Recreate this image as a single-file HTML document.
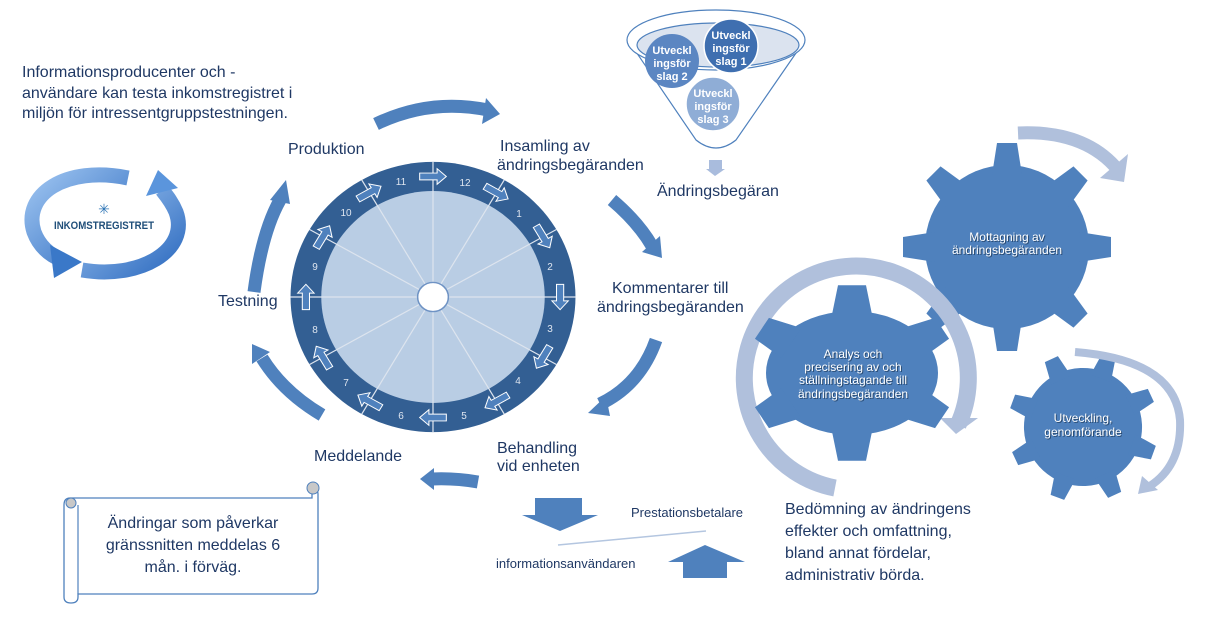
<!DOCTYPE html>
<html><head><meta charset="utf-8"><style>
body{margin:0;width:1208px;height:623px;background:#fff;overflow:hidden;font-family:"Liberation Sans",sans-serif}
svg{position:absolute;left:0;top:0}
</style></head><body>
<svg width="1208" height="623" viewBox="0 0 1208 623" font-family="Liberation Sans, sans-serif">
<defs>
<linearGradient id="lg" x1="0" y1="0" x2="1" y2="1"><stop offset="0" stop-color="#9cc3f0"/><stop offset="1" stop-color="#2f6cc0"/></linearGradient>
<g id="ar"><path d="M-13,-3.5 H4 V-8 L13,0 L4,8 V3.5 H-13 Z" fill="#4f81bd" stroke="#fff" stroke-width="1"/></g>
<g id="t8"><polygon points="-15,-72 15,-72 10,-104 -10,-104" /></g>
</defs>

<!-- top-left text -->
<g fill="#1f3864" font-size="16">
<text x="22" y="77">Informationsproducenter och -</text>
<text x="22" y="98">användare kan testa inkomstregistret i</text>
<text x="22" y="118">miljön för intressentgruppstestningen.</text>
</g>

<!-- logo -->
<path d="M128,178 C65,165 22,195 34,232 C40,248 52,256 62,260" fill="none" stroke="url(#lg)" stroke-width="15"/>
<polygon points="50,245 82,262 54,278" fill="#3a78c8"/>
<path d="M82,270 C140,280 190,250 176,212 C172,202 166,195 162,190" fill="none" stroke="url(#lg)" stroke-width="15"/>
<polygon points="146,196 158,170 178,188" fill="#5b95dc"/>
<text x="104" y="229" font-size="11" font-weight="bold" fill="#1f4e79" text-anchor="middle" textLength="100" lengthAdjust="spacingAndGlyphs">INKOMSTREGISTRET</text>
<text x="104" y="214" font-size="14" fill="#2e75b6" text-anchor="middle">✳</text>

<!-- outer cycle arrows -->
<g fill="none" stroke="#4f81bd" stroke-width="13">
<path d="M376,124 Q430,98 488,110"/>
<path d="M612,200 Q638,222 652,246"/>
<path d="M656,340 Q640,385 600,404"/>
<path d="M478,482 Q455,478 432,479"/>
<path d="M322,415 Q283,392 262,358"/>
<path d="M254,292 Q262,232 280,200"/>
</g>
<g fill="#4f81bd">
<polygon points="486,98 500,114 482,124"/>
<polygon points="642,252 662,258 660,236"/>
<polygon points="606,396 588,413 610,416"/>
<polygon points="434,468 420,479 434,490"/>
<polygon points="252,364 252,344 270,352"/>
<polygon points="270,200 286,180 290,204"/>
</g>

<!-- wheel -->
<g transform="translate(433,297) scale(1.025,0.972)">
<circle r="139" fill="#335f93"/>
<circle r="109" fill="#b9cde4"/>
<g stroke="#dde4ee" stroke-width="1.2">
<line x1="0" y1="-139" x2="0" y2="139"/><line x1="-139" y1="0" x2="139" y2="0"/>
<line x1="69.5" y1="-120.4" x2="-69.5" y2="120.4"/><line x1="120.4" y1="-69.5" x2="-120.4" y2="69.5"/>
<line x1="-69.5" y1="-120.4" x2="69.5" y2="120.4"/><line x1="-120.4" y1="-69.5" x2="120.4" y2="69.5"/>
</g>
<circle r="15" fill="#fff" stroke="#6f93c4" stroke-width="1.5"/>
<g>
<use href="#ar" transform="rotate(0) translate(0,-124)"/>
<use href="#ar" transform="rotate(30) translate(0,-124)"/>
<use href="#ar" transform="rotate(60) translate(0,-124)"/>
<use href="#ar" transform="rotate(90) translate(0,-124)"/>
<use href="#ar" transform="rotate(120) translate(0,-124)"/>
<use href="#ar" transform="rotate(150) translate(0,-124)"/>
<use href="#ar" transform="rotate(180) translate(0,-124)"/>
<use href="#ar" transform="rotate(210) translate(0,-124)"/>
<use href="#ar" transform="rotate(240) translate(0,-124)"/>
<use href="#ar" transform="rotate(270) translate(0,-124)"/>
<use href="#ar" transform="rotate(300) translate(0,-124)"/>
<use href="#ar" transform="rotate(330) translate(0,-124)"/>
</g>
</g>
<g fill="#dfe6f0" font-size="10" text-anchor="middle">
<text x="465" y="186">12</text><text x="519" y="217">1</text><text x="550" y="270">2</text>
<text x="550" y="332">3</text><text x="518" y="384">4</text><text x="464" y="419">5</text>
<text x="401" y="419">6</text><text x="346" y="386">7</text><text x="315" y="333">8</text>
<text x="315" y="270">9</text><text x="346" y="216">10</text><text x="401" y="185">11</text>
</g>

<!-- labels -->
<g fill="#1f3864" font-size="16">
<text x="288" y="154">Produktion</text>
<text x="500" y="151">Insamling av</text>
<text x="497" y="170">ändringsbegäranden</text>
<text x="657" y="196">Ändringsbegäran</text>
<text x="612" y="293">Kommentarer till</text>
<text x="597" y="312">ändringsbegäranden</text>
<text x="218" y="306">Testning</text>
<text x="497" y="453">Behandling</text>
<text x="497" y="471">vid enheten</text>
<text x="314" y="461">Meddelande</text>
<text x="785" y="514">Bedömning av ändringens</text>
<text x="785" y="536">effekter och omfattning,</text>
<text x="785" y="558">bland annat fördelar,</text>
<text x="785" y="580">administrativ börda.</text>
</g>
<g fill="#1f3864" font-size="13">
<text x="631" y="517">Prestationsbetalare</text>
<text x="496" y="568">informationsanvändaren</text>
</g>

<!-- funnel -->
<path d="M628,40 L696,140 Q716,156 736,140 L805,40" fill="#fff" stroke="#4f81bd" stroke-width="1.2"/>
<ellipse cx="716" cy="40" rx="89" ry="30" fill="#fff" stroke="#4f81bd" stroke-width="1.2"/>
<ellipse cx="718" cy="45" rx="81" ry="22" fill="#dbe3ef" stroke="#4f81bd" stroke-width="1.2"/>
<circle cx="672" cy="61" r="27" fill="#5b86c2"/>
<circle cx="731" cy="46" r="27" fill="#3f6fb0" stroke="#fff" stroke-width="1.5"/>
<circle cx="713" cy="104" r="27" fill="#8fadd6" stroke="#fff" stroke-width="1.5"/>
<g fill="#fff" font-size="11" text-anchor="middle" font-weight="bold">
<text x="731" y="39">Utveckl</text><text x="731" y="52">ingsför</text><text x="731" y="65">slag 1</text>
<text x="672" y="54">Utveckl</text><text x="672" y="67">ingsför</text><text x="672" y="80">slag 2</text>
<text x="713" y="97">Utveckl</text><text x="713" y="110">ingsför</text><text x="713" y="123">slag 3</text>
</g>
<rect x="709" y="160" width="13" height="9" fill="#a9bcdd"/>
<polygon points="706,169 725,169 715,176" fill="#a9bcdd"/>

<!-- bottom arrows -->
<polygon points="535,498 582,498 582,515 598,515 560,531 522,515 535,515" fill="#4f81bd"/>
<polygon points="683,578 727,578 727,562 745,562 705,545 668,562 683,562" fill="#4f81bd"/>
<line x1="558" y1="545" x2="706" y2="531" stroke="#b4c6e0" stroke-width="1.5"/>

<!-- scroll -->
<g fill="#fff" stroke="#4f81bd" stroke-width="1.3">
<path d="M70,498 H312 V488 A6,6 0 0 1 318,494 V588 Q318,594 312,594 H78 V597 Q78,603 71,603 Q64,603 64,597 V505 Q64,498 70,498 Z"/>
</g>
<circle cx="71" cy="503" r="5" fill="#c8c8c8" stroke="#4f81bd"/>
<circle cx="313" cy="488" r="6" fill="#c8c8c8" stroke="#4f81bd"/>
<line x1="78" y1="505" x2="78" y2="594" stroke="#4f81bd" stroke-width="1.2"/>
<g fill="#1f3864" font-size="16" text-anchor="middle">
<text x="193" y="528">Ändringar som påverkar</text>
<text x="193" y="550">gränssnitten meddelas 6</text>
<text x="193" y="572">mån. i förväg.</text>
</g>

<!-- gears -->
<g fill="#4f81bd">
<g transform="translate(1007,247) rotate(0)">
<circle r="82"/>
<use href="#t8"/><use href="#t8" transform="rotate(45)"/><use href="#t8" transform="rotate(90)"/><use href="#t8" transform="rotate(135)"/>
<use href="#t8" transform="rotate(180)"/><use href="#t8" transform="rotate(225)"/><use href="#t8" transform="rotate(270)"/><use href="#t8" transform="rotate(315)"/>
</g>
<g transform="translate(1083,427) rotate(20) scale(0.72)">
<circle r="82"/>
<use href="#t8"/><use href="#t8" transform="rotate(45)"/><use href="#t8" transform="rotate(90)"/><use href="#t8" transform="rotate(135)"/>
<use href="#t8" transform="rotate(180)"/><use href="#t8" transform="rotate(225)"/><use href="#t8" transform="rotate(270)"/><use href="#t8" transform="rotate(315)"/>
</g>
</g>
<!-- ring arc around gear 2 -->
<path d="M835,488 A112,112 0 1 1 958,425" fill="none" stroke="#b0c0dc" stroke-width="17"/>
<polygon points="940,418 978,418 956,434" fill="#b0c0dc"/>
<g fill="#4f81bd" transform="translate(852,373) scale(1,0.86)">
<ellipse rx="86" ry="72"/>
<polygon points="-20,-68 20,-68 14,-102 -14,-102"/>
<polygon points="-20,68 20,68 14,102 -14,102"/>
<g transform="rotate(60)"><polygon points="-20,-70 20,-70 14,-104 -14,-104"/></g>
<g transform="rotate(120)"><polygon points="-20,-70 20,-70 14,-104 -14,-104"/></g>
<g transform="rotate(-60)"><polygon points="-20,-70 20,-70 14,-104 -14,-104"/></g>
<g transform="rotate(-120)"><polygon points="-20,-70 20,-70 14,-104 -14,-104"/></g>
</g>
<!-- other arcs -->
<path d="M1018,133 Q1085,130 1118,170" fill="none" stroke="#b0c0dc" stroke-width="13"/>
<polygon points="1100,178 1128,154 1124,182" fill="#b0c0dc"/>
<path d="M1075,352 Q1175,360 1180,420 Q1182,465 1150,486" fill="none" stroke="#b0c0dc" stroke-width="8"/>
<polygon points="1142,476 1138,494 1158,490" fill="#b0c0dc"/>
<g font-size="12" text-anchor="middle">
<g fill="#2a4a70" transform="translate(1,1)">
<text x="1007" y="241">Mottagning av</text><text x="1007" y="254">ändringsbegäranden</text>
<text x="853" y="358">Analys och</text><text x="853" y="371">precisering av och</text>
<text x="853" y="384">ställningstagande till</text><text x="853" y="398">ändringsbegäranden</text>
<text x="1083" y="422">Utveckling,</text><text x="1083" y="436">genomförande</text>
</g>
<g fill="#fff">
<text x="1007" y="241">Mottagning av</text><text x="1007" y="254">ändringsbegäranden</text>
<text x="853" y="358">Analys och</text><text x="853" y="371">precisering av och</text>
<text x="853" y="384">ställningstagande till</text><text x="853" y="398">ändringsbegäranden</text>
<text x="1083" y="422">Utveckling,</text><text x="1083" y="436">genomförande</text>
</g>
</g>
</svg>
</body></html>
